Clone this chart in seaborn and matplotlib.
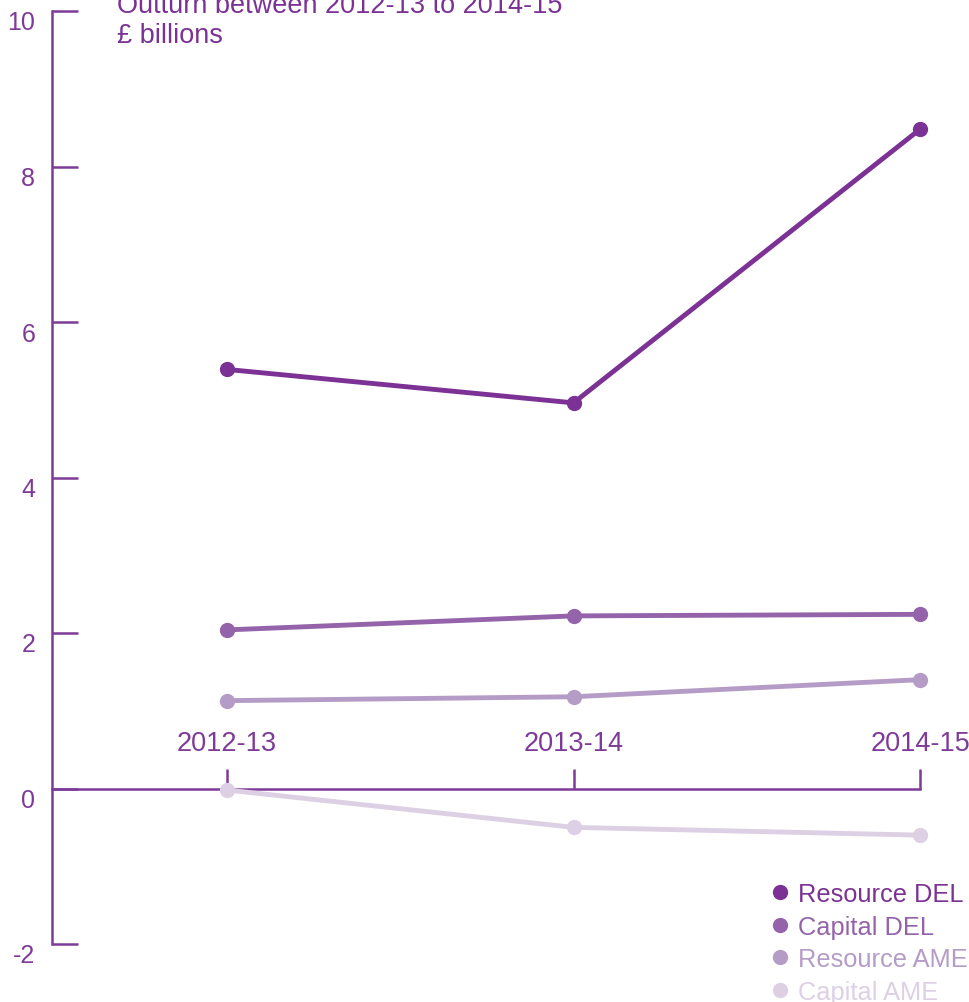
import matplotlib
matplotlib.use("Agg")
import matplotlib.pyplot as plt
import matplotlib.transforms as mtransforms
from matplotlib.lines import Line2D
import seaborn as sns
import pandas as pd

# Outturn data, £ billions
years = ["2012-13", "2013-14", "2014-15"]
series_names = ["Resource DEL", "Capital DEL", "Resource AME", "Capital AME"]
resource_del = [5.39, 4.96, 8.48]
capital_del = [2.04, 2.22, 2.24]
resource_ame = [1.13, 1.18, 1.40]
capital_ame = [-0.02, -0.50, -0.60]
y_ticks = [-2, 0, 2, 4, 6, 8, 10]

colours = ["#7b3294", "#9563aa", "#b59cc7", "#ddd0e4"]
axis_colour = "#7e3a98"

sns.set_theme(style="white")
plt.rcParams["font.family"] = ["Liberation Sans", "DejaVu Sans"]

rows = []
for name, vals in zip(series_names, [resource_del, capital_del, resource_ame, capital_ame]):
    for i, v in enumerate(vals):
        rows.append({"x": i, "year": years[i], "series": name, "value": v})
df = pd.DataFrame(rows)

W, H = 970, 1003
fig = plt.figure(figsize=(W / 100, H / 100), dpi=100)
ax = fig.add_axes([52 / W, 58 / H, 918 / W, 933 / H])

sns.lineplot(
    data=df, x="x", y="value", hue="series", hue_order=series_names,
    palette=colours, marker="o", markersize=11, markeredgewidth=0,
    linewidth=3.5, legend=False, zorder=3, ax=ax,
)

ax.set_xlim(-0.505, 2.144)
ax.set_ylim(-2, 10)
ax.set_xlabel("")
ax.set_ylabel("")

for s in ["top", "right"]:
    ax.spines[s].set_visible(False)
ax.spines["left"].set_color(axis_colour)
ax.spines["left"].set_linewidth(1.8)
ax.spines["bottom"].set_color(axis_colour)
ax.spines["bottom"].set_linewidth(1.8)
ax.spines["bottom"].set_position(("data", 0))
ax.spines["bottom"].set_bounds(-0.505, 2)

ax.set_yticks(y_ticks)
ax.set_yticklabels([str(t) for t in y_ticks])
ax.tick_params(axis="y", direction="in", length=19, width=1.8, color=axis_colour,
               labelcolor=axis_colour, labelsize=18, pad=12, left=True)
shift = mtransforms.ScaledTranslation(0, -9 / 100, fig.dpi_scale_trans)
for lbl in ax.get_yticklabels():
    lbl.set_transform(lbl.get_transform() + shift)

ax.set_xticks(range(len(years)))
ax.tick_params(axis="x", direction="in", length=14.5, width=1.8, color=axis_colour,
               labelbottom=False, bottom=True)

# category labels sit above the zero line
lab_tr = mtransforms.offset_copy(ax.transData, fig=fig, y=33, units="points")
for i, yr in enumerate(years):
    ax.text(i, 0, yr, transform=lab_tr, ha="center", va="center",
            fontsize=19.5, color=axis_colour)

ax.grid(False)

fig.text(117 / W, (H - 13) / H, "Outturn between 2012-13 to 2014-15",
         ha="left", va="baseline", fontsize=19.5, color="#7b3294")
fig.text(117 / W, (H - 43) / H, "£ billions",
         ha="left", va="baseline", fontsize=19.5, color="#7b3294")

handles = [Line2D([], [], marker="o", linestyle="", markersize=11,
                  markeredgewidth=0, color=c) for c in colours]
leg = ax.legend(handles, series_names, loc="upper left",
                bbox_to_anchor=(770 / W, (H - 883) / H), bbox_transform=fig.transFigure,
                frameon=False, fontsize=18.3, handlelength=0.8, handletextpad=0.3,
                labelspacing=0.34, borderpad=0, borderaxespad=0)
for txt, c in zip(leg.get_texts(), colours):
    txt.set_color(c)

fig.savefig("out.png", dpi=100)
